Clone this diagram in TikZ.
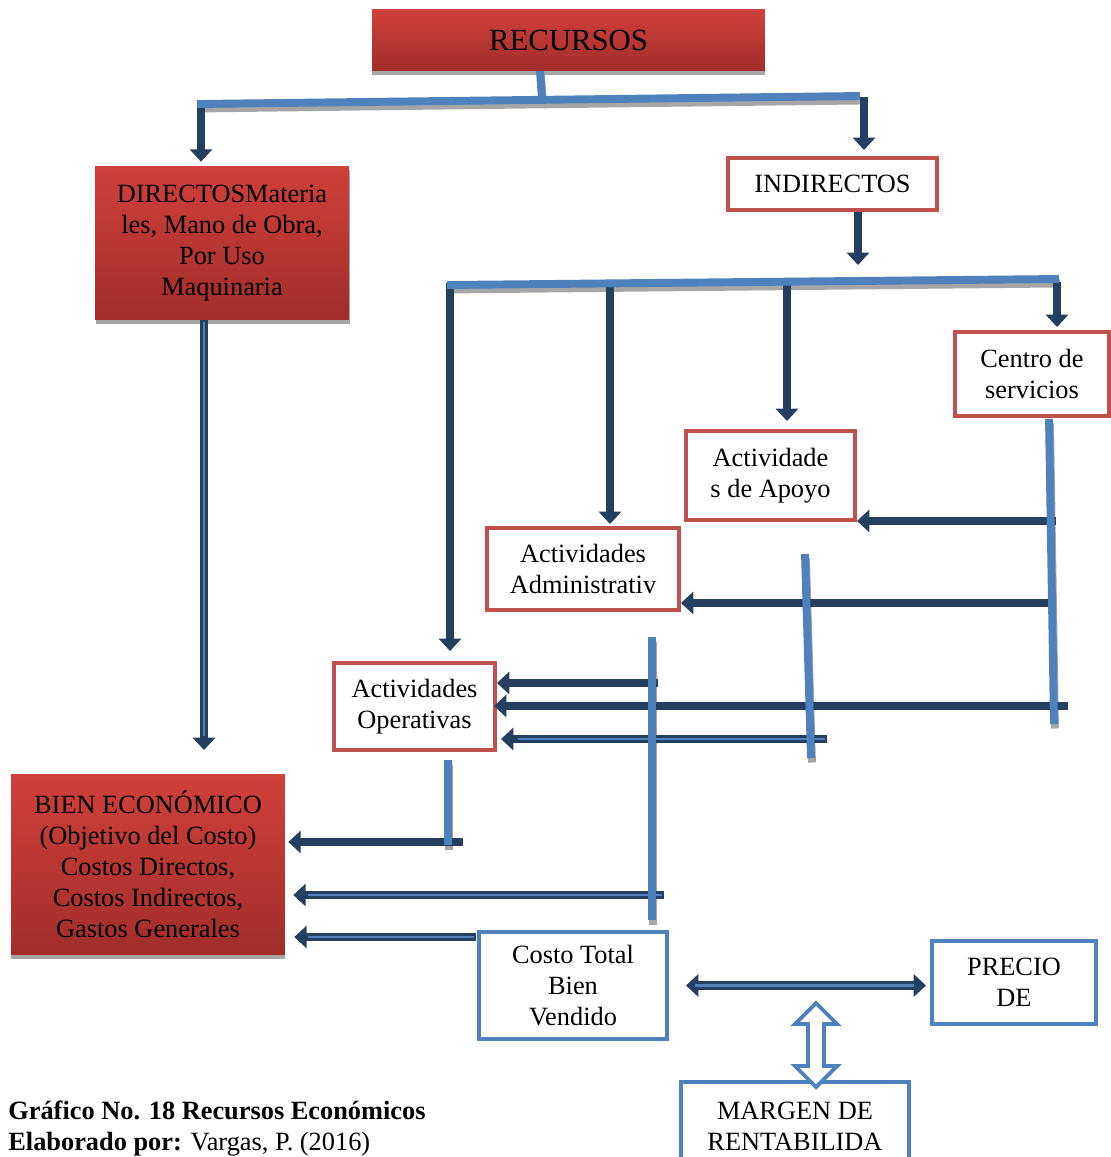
\documentclass[tikz,border=0pt]{standalone}
\usepackage{fontspec}
\setmainfont{Liberation Serif}
\usetikzlibrary{arrows.meta,shadings,calc}
\definecolor{redtop}{HTML}{D0403C}
\definecolor{redbot}{HTML}{A12D2A}
\definecolor{boxred}{HTML}{C0504D}
\definecolor{boxblue}{HTML}{4F81BD}
\definecolor{navy}{HTML}{243F60}
\definecolor{shadegray}{HTML}{A6A6A6}
\definecolor{innerblue}{HTML}{4F81BD}
\begin{document}
\begin{tikzpicture}[x=0.02cm,y=-0.02cm,
  txt/.style={font=\fontsize{15}{17.6}\selectfont, align=center, inner sep=0pt},
  redbox/.style={txt, top color=redtop, bottom color=redbot, draw=none},
  rbox/.style={txt, draw=boxred, line width=2.27pt, fill=white},
  bbox/.style={txt, draw=boxblue, line width=2.27pt, fill=white},
  navyarrow/.style={draw=navy, line width=5.1pt, -{Triangle[length=7pt,width=12.5pt]}},
  innerln/.style={draw=innerblue, line width=0.6pt, shorten <=1pt},
  blueln/.style={draw=boxblue, line width=4.5pt},
  shdln/.style={draw=shadegray, line width=4.5pt, transform canvas={xshift=0.02cm,yshift=-0.09cm}}]
\useasboundingbox (0,0) rectangle (1111,1157);
\clip (0,0) rectangle (1111,1157);
\fill[white] (0,0) rectangle (1111,1157);

% filled boxes with their shadows
\fill[shadegray] (372,13) rectangle (765,75);
\node[redbox, minimum width=7.86cm, minimum height=1.24cm, font=\fontsize{17.5}{21}\selectfont] (rec) at (568.5,40) {RECURSOS};
\fill[shadegray] (96,170) rectangle (350,324);
\node[redbox, minimum width=5.08cm, minimum height=3.08cm] (dir) at (222,243) {DIRECTOSMateria\\les, Mano de Obra,\\Por Uso\\Maquinaria};
\fill[shadegray] (11,778) rectangle (285,959);
\node[redbox, minimum width=5.48cm, minimum height=3.62cm] (bien) at (148,864.5) {BIEN ECONÓMICO\\(Objetivo del Costo)\\Costos Directos,\\Costos Indirectos,\\Gastos Generales};

% outlined boxes
\node[rbox, minimum width=4.18cm, minimum height=1.04cm] (ind) at (832.5,184) {INDIRECTOS};
\node[rbox, minimum width=3.08cm, minimum height=1.68cm] (cen) at (1032,374) {Centro de\\servicios};
\node[rbox, minimum width=3.38cm, minimum height=1.78cm] (apo) at (770.5,475.5) {Actividade\\s de Apoyo};
\node[rbox, minimum width=3.84cm, minimum height=1.64cm] (adm) at (583,569) {Actividades\\Administrativ};
\node[rbox, minimum width=3.22cm, minimum height=1.74cm] (ope) at (414.5,706.5) {Actividades\\Operativas};
\node[bbox, minimum width=3.28cm, minimum height=1.66cm] (pre) at (1014,982.5) {PRECIO\\DE};
\node[bbox, minimum width=4.56cm, minimum height=1.76cm] (mar) at (795,1126) {MARGEN DE\\RENTABILIDA};

% junction points
\coordinate (r0) at (540,71);
\coordinate (r1) at (542,99);
\coordinate (ba) at (197,104);
\coordinate (bb) at (860,96);
\coordinate (da) at (201,101);
\coordinate (ia) at (864,97);
\coordinate (ib) at (858,265);
\coordinate (ca) at (447,285);
\coordinate (cb) at (1059,279);
\coordinate (v1) at (450,283);
\coordinate (v2) at (610,287);
\coordinate (v3) at (787,283);
\coordinate (v4) at (1057,282);
\coordinate (dv) at (204,750);
\coordinate (c0) at (1049,419);
\coordinate (c1) at (1054,724);
\coordinate (a0) at (805,554);
\coordinate (a1) at (811,758);
\coordinate (m0) at (652,637);
\coordinate (m1) at (652,920);
\coordinate (o0) at (448,760);
\coordinate (o1) at (448,845);
\coordinate (h1) at (1056,521);
\coordinate (h2) at (1056,603);
\coordinate (h3) at (658,683);
\coordinate (h4) at (1068,706);
\coordinate (h5) at (827,739);
\coordinate (h6) at (463,842);
\coordinate (h7) at (664,895);
\coordinate (h8) at (476,937);

% shadows of the blue lines
\draw[shdln] (r0) -- (r1);
\draw[shdln] (ba) -- (bb);
\draw[shdln] (ca) -- (cb);
\draw[shdln] (c0) -- (c1);
\draw[shdln] (a0) -- (a1);
\draw[shdln] (m0) -- (m1);
\draw[shdln] (o0) -- (o1);

% downward arrows
\draw[navyarrow, shorten >=0.08cm] (da) -- (dir.north -| da);
\draw[navyarrow, shorten >=0.12cm] (ia) -- (ind.north -| ia);
\draw[navyarrow] (ind.south -| ib) -- (ib);
\draw[navyarrow, shorten >=0.2cm] (v1) -- (ope.north -| v1);
\draw[navyarrow, shorten >=0.04cm] (v2) -- (adm.north -| v2);
\draw[navyarrow, shorten >=0.16cm] (v3) -- (apo.north -| v3);
\draw[navyarrow, shorten >=0.06cm] (v4) -- (cen.north -| v4);
\draw[navyarrow] (dir.south -| dv) -- (dv);
\draw[innerln, shorten >=8pt] (dir.south -| dv) -- (dv);

% leftward arrows
\draw[navyarrow] (h1) -- (apo.east |- h1);
\draw[navyarrow] (h2) -- (adm.east |- h2);
\draw[navyarrow] (h3) -- (ope.east |- h3);
\draw[navyarrow, shorten >=-0.06cm] (h4) -- (ope.east |- h4);
\draw[navyarrow, shorten >=0.08cm] (h5) -- (ope.east |- h5);
\draw[innerln, shorten >=12pt] (h5) -- (ope.east |- h5);
\draw[navyarrow, shorten >=0.06cm] (h6) -- (bien.east |- h6);
\draw[navyarrow, shorten >=0.16cm] (h7) -- (bien.east |- h7);
\draw[innerln, shorten >=13pt] (h7) -- (bien.east |- h7);
\draw[navyarrow, shorten >=0.18cm] (h8) -- (bien.east |- h8);
\draw[innerln, shorten >=13pt] (h8) -- (bien.east |- h8);

% blue lines
\draw[blueln] (r0) -- (r1);
\draw[blueln] (ba) -- (bb);
\draw[blueln] (ca) -- (cb);
\draw[blueln] (c0) -- (c1);
\draw[blueln] (a0) -- (a1);
\draw[blueln] (m0) -- (m1);
\draw[blueln] (o0) -- (o1);

% cost box and the links below it
\node[bbox, minimum width=3.76cm, minimum height=2.14cm] (cos) at (573,985.5) {Costo Total\\Bien\\Vendido};
\draw[navyarrow, {Triangle[length=7pt,width=12.5pt]}-{Triangle[length=7pt,width=12.5pt]}, shorten <=0.34cm, shorten >=0.08cm] (cos.east) -- (pre.west |- cos.east);
\draw[innerln, line width=1.4pt, shorten <=15pt, shorten >=9pt] (cos.east) -- (pre.west |- cos.east);

% hollow double arrow to the margin box
\draw[boxblue, line width=2.2pt, fill=white, line join=miter]
  (816,1003) -- (837,1024) -- (824,1024) -- (824,1066) -- (837,1066) -- (816,1087)
  -- (795,1066) -- (808,1066) -- (808,1024) -- (795,1024) -- cycle;

% caption
\node[anchor=base west, inner sep=0pt, font=\fontsize{15}{17.6}\selectfont\bfseries] (cap1) at (8,1119) {Gráfico No. 18 Recursos Económicos};
\node[anchor=base west, inner sep=0pt, font=\fontsize{15}{17.6}\selectfont] (cap2) at (8,1150) {\textbf{Elaborado por:} Vargas, P. (2016)};
\end{tikzpicture}
\end{document}
